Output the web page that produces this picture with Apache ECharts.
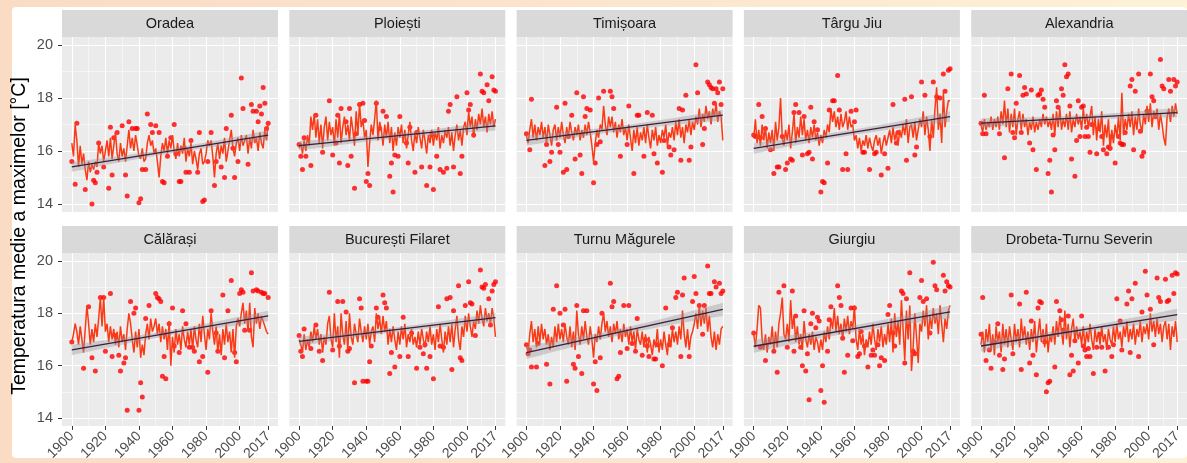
<!DOCTYPE html>
<html>
<head>
<meta charset="utf-8">
<script src="https://cdn.jsdelivr.net/npm/echarts@6/dist/echarts.min.js"></script>
<style>
  html, body { margin: 0; padding: 0; }
  body { width: 1187px; height: 463px; position: relative; overflow: hidden;
         background: linear-gradient(to right, #f9dcc3 0%, #fbe6cf 55%, #fdf2d7 100%); }
  #paper { position: absolute; left: 12px; top: 7px; width: 1175px; height: 451px; background: #fff; border-radius: 4px; }
  #chart { position: absolute; left: 0; top: 0; width: 1187px; height: 463px; }
</style>
</head>
<body>
<div id="paper"></div>
<div id="chart"></div>
<script>
// Annual mean of daily maximum temperature, 1900-2017, ten Romanian stations.
const firstYear = 1900;
const stations = ['Oradea', 'Ploiești', 'Timișoara', 'Târgu Jiu', 'Alexandria',
                  'Călărași', 'București Filaret', 'Turnu Măgurele', 'Giurgiu', 'Drobeta-Turnu Severin'];
const xBreaks = [1900, 1920, 1940, 1960, 1980, 2000, 2017];
const xMinor = [1910, 1930, 1950, 1970, 1990, 2008.5];
const yBreaks = [14, 16, 18, 20];
const yMinor = [15, 17, 19];
const yTitle = 'Temperatura medie a maximelor [°C]';

// yearly series (line), 1900..2017
const lineOradea = [
  16.3, 15.8, 17.0, 16.4, 15.4, 16.2, 15.5, 15.9, 15.3, 14.9,
  15.6, 15.2, 15.5, 15.3, 15.6, 15.4, 16.3, 15.9, 16.2, 15.6,
  16.0, 16.4, 15.8, 16.5, 15.7, 16.2, 16.7, 15.9, 15.6, 16.3,
  15.8, 16.1, 15.6, 16.2, 16.8, 16.1, 16.5, 16.0, 16.6, 16.2,
  15.8, 15.7, 16.1, 15.6, 15.7, 16.3, 16.6, 16.2, 16.4, 15.9,
  16.1, 15.6, 15.0, 15.8, 16.3, 16.0, 16.5, 15.9, 16.4, 16.1,
  16.6, 16.0, 15.7, 16.3, 15.8, 16.2, 15.9, 16.5, 15.6, 16.1,
  15.8, 16.3, 15.5, 16.0, 15.7, 15.3, 15.9, 16.1, 15.5, 15.6,
  15.9, 16.4, 16.2, 16.4, 15.8, 15.0, 15.9, 16.3, 15.7, 16.2,
  15.9, 16.5, 15.6, 16.0, 16.4, 16.8, 16.1, 15.8, 16.3, 16.5,
  16.0, 16.6, 16.2, 16.4, 16.6, 15.9, 16.5, 16.1, 16.8, 16.3,
  16.5, 16.0, 16.7, 16.3, 16.1, 16.8, 16.4, 17.05];
const linePloiesti = [
  16.1, 16.3, 15.9, 16.4, 16.0, 16.6, 16.2, 17.3, 16.8, 17.4,
  16.5, 17.2, 16.3, 17.0, 16.1, 16.9, 17.3, 16.4, 17.1, 16.6,
  16.9, 16.2, 17.2, 16.5, 17.4, 16.3, 16.9, 17.3, 16.6, 17.0,
  16.4, 17.3, 16.8, 16.2, 17.5, 16.6, 17.8, 16.9, 17.2, 16.5,
  16.8, 15.4, 16.3, 17.0, 16.6, 17.2, 17.9, 16.4, 17.1, 16.8,
  16.2, 17.0, 16.5, 17.1, 16.3, 16.9, 16.0, 16.7, 16.2, 16.9,
  16.5, 17.0, 16.3, 16.8, 16.1, 16.6, 17.1, 16.4, 16.0, 16.7,
  16.3, 16.9, 16.5, 16.1, 16.8, 16.4, 15.9, 16.6, 16.3, 16.8,
  16.2, 16.7, 16.4, 16.9, 16.1, 16.6, 16.3, 16.8, 16.5, 16.9,
  16.2, 16.7, 16.0, 16.6, 17.0, 16.4, 16.8, 16.2, 16.9, 17.1,
  16.6, 17.5, 16.9, 17.3, 16.5, 17.2, 16.8, 17.4, 17.0, 17.6,
  16.9, 17.3, 16.7, 17.4, 17.0, 17.5, 16.9, 17.2];
const lineTimisoara = [
  16.6, 16.3, 16.8, 17.2, 16.5, 17.0, 16.4, 16.9, 16.6, 17.1,
  16.5, 16.9, 16.3, 17.0, 16.6, 16.2, 16.8, 17.0, 16.4, 16.9,
  16.5, 17.1, 16.6, 16.3, 16.9, 16.5, 17.1, 16.7, 16.4, 16.9,
  16.6, 17.0, 16.4, 16.8, 16.5, 17.0, 16.6, 17.1, 16.7, 16.2,
  15.6, 16.3, 16.8, 16.5, 17.0, 16.8, 17.7, 17.0, 16.6, 17.3,
  16.9, 17.3, 16.7, 17.1, 16.5, 17.0, 16.7, 17.2, 16.6, 16.9,
  16.4, 17.0, 16.5, 16.0, 16.8, 16.3, 16.9, 16.2, 16.7, 16.4,
  16.9, 16.3, 17.0, 16.5, 16.1, 16.8, 16.4, 16.9, 16.2, 16.6,
  16.3, 16.8, 16.5, 17.0, 16.2, 16.7, 16.5, 16.9, 16.4, 17.1,
  16.6, 17.2, 16.5, 16.9, 16.3, 17.0, 16.7, 17.2, 16.6, 17.1,
  16.8, 17.3, 17.0, 17.6, 16.9, 17.4, 17.1, 17.7, 17.2, 17.5,
  17.0, 17.6, 17.3, 17.8, 17.1, 17.5, 17.3, 16.4];
const lineTarguJiu = [
  16.5, 17.2, 16.3, 16.8, 16.2, 17.0, 16.4, 16.9, 16.1, 16.7,
  16.3, 16.8, 16.0, 17.1, 16.4, 16.9, 18.0, 16.5, 16.2, 16.8,
  16.4, 17.0, 16.1, 16.7, 17.4, 16.3, 16.9, 16.5, 17.3, 16.6,
  17.2, 16.4, 16.8, 16.3, 16.9, 16.5, 17.0, 16.4, 16.7, 16.2,
  16.6, 16.3, 16.8, 16.5, 17.0, 16.7, 17.6, 17.1, 17.5, 16.9,
  17.3, 16.8, 17.4, 16.9, 17.1, 17.5, 16.8, 17.3, 16.9, 17.0,
  16.4, 16.6, 16.1, 16.5, 16.0, 16.4, 16.2, 16.6, 16.1, 16.5,
  16.2, 16.0, 16.4, 16.6, 16.2, 16.5, 15.9, 16.3, 16.6, 16.2,
  16.5, 16.8, 16.3, 16.9, 16.4, 16.7, 16.2, 16.8, 16.5, 17.0,
  16.6, 17.2, 16.3, 16.9, 17.0, 16.5, 17.1, 16.4, 16.8, 17.2,
  16.9, 17.5, 16.6, 17.3, 16.8, 16.0, 17.2, 16.5, 17.6, 18.4,
  16.8, 17.4, 16.3, 18.2, 16.9, 17.5, 17.9, 17.9];
const lineAlexandria = [
  17.0, 16.7, 17.2, 16.8, 17.1, 16.9, 17.3, 16.8, 17.2, 16.9,
  17.3, 16.8, 17.5, 17.0, 17.9, 16.9, 17.6, 16.7, 17.4, 16.9,
  17.6, 16.6, 17.2, 17.5, 16.8, 17.4, 16.9, 17.2, 16.6, 17.1,
  16.8, 17.3, 16.7, 17.1, 16.8, 17.2, 16.9, 17.4, 17.0, 17.3,
  16.9, 17.2, 16.8, 17.4, 16.6, 17.5, 16.9, 17.6, 16.8, 17.2,
  16.9, 17.4, 16.8, 17.5, 16.7, 17.2, 16.9, 17.4, 17.0, 17.3,
  16.8, 17.6, 17.0, 17.4, 16.9, 17.3, 17.7, 16.6, 17.3, 16.4,
  17.2, 16.7, 17.5, 16.2, 17.0, 16.5, 17.2, 16.0, 16.8, 16.3,
  17.0, 16.5, 17.3, 16.4, 18.2, 16.6, 17.2, 16.8, 17.4, 16.9,
  17.5, 16.6, 17.3, 16.8, 17.6, 17.0, 16.7, 17.4, 17.0, 17.7,
  17.1, 17.8, 16.9, 17.5, 17.2, 17.6, 16.8, 17.4, 17.0, 16.5,
  16.2, 17.3, 17.6, 17.1, 17.7, 17.3, 17.8, 17.4];
const lineCalarasi = [
  16.9, 17.2, 17.6, 17.3, 16.8, 17.5, 17.0, 16.5, 17.4, 18.3,
  17.6, 16.8, 17.4, 16.9, 17.6, 17.1, 17.8, 18.6, 17.5, 18.6,
  17.3, 17.6, 16.9, 17.5, 17.0, 17.4, 16.8, 17.3, 16.7, 17.5,
  16.9, 17.2, 16.6, 17.4, 18.0, 17.6, 17.0, 16.5, 17.3, 16.7,
  17.4, 16.3, 16.8, 16.4, 17.2, 17.6, 17.0, 17.8, 17.3, 17.5,
  17.8, 17.2, 17.6, 16.9, 17.5, 17.0, 17.4, 16.6, 17.7, 16.0,
  17.1, 16.5, 17.4, 16.8, 17.2, 16.6, 17.5, 17.0, 16.7, 17.3,
  16.8, 17.4, 16.6, 17.5, 17.0, 16.7, 17.6, 16.9, 17.9, 17.2,
  16.6, 17.4, 17.0, 18.0, 17.3, 16.8, 17.5, 16.5, 17.2, 16.4,
  17.4, 16.8, 17.6, 16.9, 17.3, 16.5, 17.4, 16.3, 17.5, 17.8,
  17.5, 18.0, 18.4, 17.6, 18.1, 17.3, 18.4, 17.1, 16.7, 18.2,
  17.6, 18.0, 17.4, 17.9, 17.7, 17.5, 17.3, 17.2];
const lineFilaret = [
  17.0, 16.8, 16.5, 17.2, 16.6, 17.0, 16.7, 17.3, 16.9, 17.5,
  17.0, 17.4, 16.8, 17.2, 16.5, 17.1, 16.8, 17.6, 17.9, 17.0,
  16.7, 18.0, 16.9, 17.5, 16.3, 18.0, 17.2, 16.8, 17.7, 16.6,
  18.0, 17.1, 16.8, 17.6, 17.2, 16.9, 17.8, 17.3, 16.9, 17.5,
  17.0, 17.6, 16.8, 17.3, 17.5, 16.9, 18.0, 17.4, 17.8, 17.2,
  17.9, 17.3, 17.7, 16.8, 17.4, 16.9, 17.5, 17.0, 16.6, 17.3,
  16.8, 17.5, 17.0, 17.6, 16.7, 17.2, 16.9, 17.4, 16.8, 17.1,
  16.7, 17.3, 16.8, 17.4, 17.0, 16.7, 17.3, 16.9, 17.5, 16.8,
  17.2, 16.6, 17.4, 16.9, 17.6, 17.0, 16.5, 17.3, 16.8, 17.5,
  16.9, 17.6, 16.7, 17.4, 17.9, 17.0, 16.6, 17.5, 17.1, 17.9,
  17.3, 18.0, 17.5, 17.1, 17.7, 17.4, 18.1, 17.6, 18.3, 17.8,
  17.5, 18.2, 17.7, 18.0, 17.6, 18.2, 17.8, 17.1];
const lineTurnu = [
  16.8, 16.5, 17.2, 17.7, 16.9, 17.4, 16.7, 17.5, 16.9, 17.6,
  17.0, 17.4, 16.8, 17.2, 16.6, 17.1, 16.7, 17.5, 16.9, 17.6,
  17.0, 17.4, 16.9, 17.6, 17.1, 16.8, 17.5, 16.7, 17.3, 16.6,
  18.1, 17.2, 16.8, 17.5, 17.0, 17.7, 17.1, 16.8, 17.5, 17.0,
  16.3, 17.2, 16.9, 17.5, 17.0, 17.6, 18.0, 17.3, 17.7, 17.1,
  17.5, 16.9, 17.6, 17.2, 17.7, 17.0, 17.4, 16.9, 17.6, 17.1,
  17.4, 16.8, 17.5, 16.9, 17.3, 16.6, 17.4, 17.0, 16.8, 17.3,
  16.7, 17.2, 16.5, 17.1, 16.8, 16.4, 17.0, 16.7, 17.4, 16.5,
  17.0, 16.6, 17.3, 16.8, 16.4, 17.2, 16.7, 17.4, 16.9, 17.3,
  16.8, 17.5, 17.0, 18.1, 17.2, 16.7, 17.4, 16.6, 17.1, 17.3,
  17.6, 18.0, 17.4, 18.3, 17.5, 18.1, 17.6, 18.2, 17.3, 17.9,
  17.1, 16.7, 17.3, 16.6, 17.2, 16.8, 17.4, 17.5];
const lineGiurgiu = [
  17.2, 16.7, 17.4, 18.3, 18.2, 17.0, 16.6, 17.2, 16.5, 17.1,
  16.8, 17.5, 16.6, 17.3, 16.7, 17.6, 18.0, 18.6, 17.2, 17.0,
  17.6, 16.9, 18.5, 17.4, 17.9, 16.9, 17.5, 16.8, 17.2, 16.6,
  17.7, 17.0, 16.7, 17.2, 16.8, 17.3, 16.6, 17.1, 16.9, 16.5,
  17.0, 16.6, 17.3, 16.9, 17.5, 17.0, 17.8, 17.4, 18.2, 17.3,
  17.9, 17.2, 17.6, 17.0, 17.8, 17.3, 17.9, 17.2, 17.7, 17.4,
  18.3, 17.0, 16.6, 17.4, 16.8, 17.2, 16.4, 17.0, 16.7, 17.3,
  16.8, 17.6, 17.0, 16.6, 17.4, 16.9, 17.5, 16.7, 17.2, 16.8,
  17.6, 16.9, 17.8, 16.5, 18.0, 17.1, 17.7, 16.8, 18.5, 17.4,
  16.2, 18.1, 17.0, 18.3, 15.8, 16.7, 18.0, 17.1, 16.1, 17.6,
  17.3, 18.1, 17.5, 18.3, 17.0, 17.9, 17.4, 18.2, 17.6, 18.0,
  17.2, 18.3, 17.6, 16.9, 17.8, 17.4, 18.1, 18.3];
const lineDrobeta = [
  16.8, 17.3, 16.5, 17.4, 16.9, 17.6, 16.6, 17.2, 16.4, 17.5,
  16.9, 17.3, 16.5, 17.6, 16.8, 17.4, 16.7, 17.5, 17.0, 16.6,
  17.6, 16.9, 17.4, 16.7, 17.8, 17.0, 17.5, 16.8, 17.3, 16.6,
  17.4, 16.9, 17.7, 16.5, 17.2, 17.8, 16.9, 17.4, 16.7, 17.6,
  16.5, 17.2, 16.9, 17.5, 16.8, 17.7, 17.1, 17.9, 17.3, 16.8,
  18.1, 17.0, 17.6, 16.7, 17.4, 17.8, 16.9, 17.5, 17.0, 17.3,
  16.8, 17.5, 16.7, 17.3, 16.9, 17.6, 17.0, 16.6, 17.4, 16.9,
  17.3, 16.8, 17.5, 16.9, 17.2, 16.6, 17.4, 17.0, 16.8, 17.5,
  16.9, 17.6, 17.0, 17.3, 16.7, 17.5, 17.1, 17.7, 16.9, 17.4,
  17.0, 17.6, 16.8, 17.4, 17.1, 17.7, 16.9, 17.5, 17.2, 17.6,
  17.0, 18.0, 17.3, 17.7, 17.1, 17.8, 17.2, 17.6, 16.9, 17.5,
  17.7, 17.0, 17.6, 16.6, 17.5, 17.1, 17.7, 16.9];

// individual yearly observations (points), [year, °C]
const ptsOradea = [[1900,15.6],[1902,14.75],[1903,17.05],[1908,14.55],[1912,14.0],[1913,14.9],[1914,14.8],[1915,15.2],[1916,16.3],[1919,15.4],[1922,14.6],[1923,16.9],[1924,15.1],[1925,16.5],[1927,16.7],[1930,16.95],[1932,15.1],[1933,14.3],[1934,17.1],[1936,16.85],[1938,16.85],[1939,16.85],[1940,14.05],[1941,14.2],[1942,15.3],[1944,15.3],[1945,17.4],[1947,17.0],[1948,16.7],[1950,16.95],[1952,16.7],[1954,14.85],[1955,14.8],[1957,15.8],[1959,16.5],[1961,17.0],[1962,15.9],[1964,14.85],[1965,14.85],[1967,16.1],[1968,15.2],[1970,15.2],[1971,16.4],[1975,15.2],[1976,16.7],[1978,14.1],[1979,14.15],[1981,15.6],[1983,16.7],[1985,14.7],[1986,15.6],[1989,15.4],[1991,15.0],[1992,16.85],[1995,17.35],[1996,16.1],[1997,15.0],[1999,15.6],[2001,18.75],[2002,17.6],[2005,15.5],[2007,17.75],[2008,17.5],[2010,17.5],[2011,17.1],[2012,17.7],[2013,17.4],[2014,18.4],[2015,17.8],[2016,16.85],[2017,17.05]];
const ptsPloiesti = [[1900,16.25],[1901,15.8],[1902,15.3],[1903,16.5],[1904,15.8],[1907,15.45],[1910,17.35],[1914,15.95],[1918,17.9],[1920,15.85],[1922,16.3],[1923,17.35],[1924,15.55],[1925,17.6],[1928,17.1],[1929,15.45],[1930,17.6],[1931,15.8],[1933,14.6],[1934,16.65],[1936,17.75],[1938,17.8],[1939,17.15],[1940,14.85],[1941,15.15],[1942,14.7],[1946,17.8],[1948,16.85],[1950,17.5],[1952,17.3],[1954,15.05],[1955,15.55],[1956,14.45],[1957,15.85],[1959,15.8],[1960,17.3],[1964,16.3],[1965,15.55],[1966,16.9],[1969,15.2],[1970,16.7],[1973,15.4],[1976,14.7],[1978,15.4],[1979,16.6],[1980,14.55],[1982,15.8],[1984,15.3],[1986,15.2],[1988,15.35],[1989,17.5],[1990,17.75],[1992,15.4],[1994,18.05],[1996,15.15],[1997,15.8],[2000,18.2],[2001,17.55],[2002,17.75],[2004,16.6],[2008,18.9],[2009,18.25],[2010,18.2],[2012,18.5],[2013,17.9],[2015,18.8],[2016,18.3],[2017,18.25]];
const ptsTimisoara = [[1900,16.65],[1902,16.05],[1903,17.95],[1911,15.45],[1912,16.25],[1914,15.6],[1915,15.95],[1918,17.65],[1919,16.25],[1920,15.95],[1922,15.2],[1923,17.8],[1924,15.3],[1925,16.55],[1927,17.35],[1929,15.7],[1930,18.2],[1932,15.85],[1933,15.15],[1934,18.05],[1935,17.3],[1936,17.6],[1938,17.55],[1940,14.8],[1941,15.55],[1942,16.25],[1943,18.0],[1944,16.35],[1946,18.25],[1950,18.25],[1951,18.05],[1952,17.6],[1956,15.8],[1960,16.25],[1961,17.7],[1964,15.15],[1966,17.35],[1967,17.35],[1970,15.8],[1972,17.45],[1975,17.35],[1976,15.9],[1978,15.55],[1981,15.2],[1982,16.4],[1985,16.15],[1986,15.85],[1988,16.05],[1991,17.6],[1992,15.65],[1993,17.55],[1995,18.1],[1997,15.65],[1998,16.15],[2001,19.25],[2002,18.2],[2005,16.25],[2006,16.85],[2008,18.6],[2009,18.5],[2010,18.4],[2011,18.35],[2012,17.8],[2013,18.35],[2014,18.2],[2015,18.6],[2016,17.75],[2017,18.35]];
const ptsTarguJiu = [[1900,16.6],[1901,16.55],[1903,17.75],[1904,16.5],[1905,17.3],[1907,16.85],[1910,16.05],[1912,15.15],[1914,15.4],[1915,15.4],[1917,16.55],[1919,15.3],[1920,15.55],[1922,15.7],[1923,15.65],[1924,17.45],[1925,17.75],[1927,17.45],[1929,15.85],[1930,17.3],[1932,15.9],[1933,15.95],[1934,17.65],[1935,15.7],[1936,17.1],[1938,16.8],[1940,14.45],[1941,14.85],[1942,14.8],[1944,15.55],[1945,17.55],[1947,17.9],[1948,17.9],[1950,18.85],[1951,17.55],[1953,15.3],[1955,15.9],[1956,15.3],[1958,17.5],[1960,17.1],[1961,17.55],[1965,15.95],[1966,15.95],[1969,15.3],[1972,15.9],[1973,15.95],[1976,15.1],[1978,15.9],[1980,15.35],[1983,17.75],[1985,16.3],[1986,16.7],[1990,17.95],[1991,15.65],[1994,18.05],[1996,15.85],[1997,16.15],[2000,18.6],[2002,18.1],[2005,16.55],[2007,18.6],[2009,18.05],[2011,18.0],[2013,18.9],[2014,18.25],[2016,19.05],[2017,19.1]];
const ptsAlexandria = [[1900,17.05],[1901,16.65],[1902,18.1],[1903,16.65],[1911,16.65],[1914,15.75],[1916,18.35],[1918,18.9],[1919,16.7],[1920,16.5],[1921,17.8],[1923,18.85],[1924,16.7],[1925,18.1],[1926,18.4],[1927,18.15],[1929,16.3],[1930,18.3],[1931,16.05],[1933,15.3],[1934,18.1],[1935,18.15],[1936,18.3],[1937,17.95],[1938,17.65],[1940,15.15],[1941,15.65],[1942,14.45],[1943,16.6],[1944,16.05],[1945,17.9],[1946,17.65],[1948,18.35],[1949,18.1],[1950,19.25],[1951,18.8],[1952,18.9],[1953,17.7],[1954,15.7],[1956,15.05],[1957,16.4],[1958,17.9],[1959,16.55],[1960,17.65],[1961,17.7],[1962,16.55],[1963,16.9],[1964,16.55],[1965,15.95],[1966,17.0],[1969,15.9],[1970,16.85],[1972,16.55],[1973,16.05],[1975,15.9],[1976,16.15],[1977,16.1],[1978,16.55],[1980,15.55],[1982,16.55],[1983,16.3],[1984,16.25],[1985,16.25],[1986,16.7],[1989,18.45],[1990,18.7],[1991,16.05],[1992,18.25],[1994,18.9],[1995,16.75],[1996,15.8],[1997,15.95],[1999,17.5],[2001,18.9],[2002,18.05],[2003,17.9],[2004,17.3],[2007,19.45],[2008,18.45],[2009,18.35],[2012,18.7],[2013,18.25],[2015,18.7],[2016,18.45],[2017,18.6]];
const ptsCalarasi = [[1900,16.9],[1907,15.9],[1910,18.25],[1912,16.3],[1914,15.8],[1917,18.6],[1919,18.6],[1920,16.55],[1923,18.75],[1924,16.35],[1926,17.15],[1928,16.4],[1929,15.8],[1931,16.1],[1932,16.3],[1933,14.3],[1935,18.45],[1937,18.0],[1938,18.2],[1940,14.3],[1941,15.35],[1942,14.8],[1944,17.8],[1946,18.3],[1950,18.75],[1951,18.6],[1952,18.55],[1953,18.45],[1954,15.6],[1955,16.35],[1956,15.5],[1958,17.6],[1960,18.2],[1961,16.75],[1964,16.5],[1966,18.1],[1968,17.6],[1970,16.7],[1972,16.7],[1973,16.55],[1976,16.15],[1978,16.35],[1981,15.75],[1983,18.1],[1986,17.25],[1987,16.55],[1990,18.7],[1991,16.3],[1993,18.1],[1995,19.25],[1997,16.5],[1998,16.15],[2000,18.75],[2001,18.9],[2002,18.8],[2003,17.35],[2006,17.35],[2007,19.55],[2008,18.85],[2010,18.9],[2011,18.85],[2013,18.8],[2014,18.75],[2015,18.75],[2017,18.6]];
const ptsFilaret = [[1900,17.15],[1901,16.55],[1902,16.35],[1903,17.4],[1907,16.65],[1910,17.55],[1912,16.55],[1914,16.2],[1918,18.8],[1920,16.6],[1923,18.45],[1924,16.75],[1926,18.45],[1928,18.05],[1929,16.55],[1930,16.65],[1933,15.35],[1936,18.55],[1937,18.2],[1938,15.4],[1940,15.4],[1941,15.4],[1942,16.15],[1943,16.75],[1946,18.2],[1947,17.85],[1950,18.7],[1951,18.4],[1952,18.2],[1954,15.7],[1955,16.5],[1957,15.95],[1960,16.35],[1962,17.85],[1965,16.35],[1967,17.25],[1970,15.9],[1972,16.7],[1974,16.45],[1975,16.8],[1976,15.9],[1978,16.35],[1980,15.5],[1983,18.25],[1984,16.75],[1986,16.7],[1988,18.55],[1990,18.6],[1991,15.85],[1992,18.1],[1995,19.05],[1996,16.3],[1997,16.2],[1999,18.3],[2001,19.2],[2002,18.4],[2003,18.35],[2005,17.15],[2008,19.65],[2009,19.0],[2010,18.95],[2011,19.1],[2013,18.55],[2014,17.55],[2015,18.85],[2016,19.1],[2017,19.2]];
const ptsTurnu = [[1900,16.8],[1901,16.45],[1902,16.6],[1903,15.95],[1906,15.95],[1907,16.85],[1912,16.05],[1914,15.3],[1916,18.15],[1918,19.05],[1920,18.0],[1922,17.55],[1923,18.15],[1924,15.4],[1928,16.05],[1929,15.9],[1930,18.3],[1931,16.35],[1933,15.7],[1934,18.1],[1936,18.1],[1940,15.3],[1941,16.15],[1942,15.05],[1944,16.3],[1945,18.0],[1950,19.15],[1951,18.25],[1952,18.45],[1954,15.5],[1955,15.6],[1956,16.5],[1958,18.3],[1960,16.65],[1961,18.3],[1963,16.85],[1965,16.55],[1966,17.8],[1969,16.4],[1971,17.0],[1972,16.75],[1973,16.35],[1976,16.25],[1977,16.25],[1978,16.8],[1981,16.0],[1983,18.2],[1985,16.8],[1987,17.45],[1989,18.6],[1990,18.8],[1992,16.35],[1993,18.7],[1994,19.35],[1997,16.35],[1999,18.45],[2000,19.4],[2001,18.75],[2003,18.3],[2005,17.2],[2006,18.3],[2008,19.8],[2009,18.75],[2010,18.75],[2012,19.2],[2013,19.0],[2015,19.15],[2016,18.75],[2017,18.85]];
const ptsGiurgiu = [[1900,17.25],[1904,16.7],[1907,16.2],[1912,16.55],[1914,15.75],[1915,18.8],[1918,19.05],[1920,16.7],[1923,18.85],[1924,16.55],[1925,17.9],[1928,16.7],[1929,16.0],[1930,18.1],[1931,15.8],[1932,16.45],[1933,14.7],[1934,17.6],[1935,18.0],[1937,17.45],[1938,17.85],[1939,17.7],[1940,15.05],[1941,16.0],[1942,14.6],[1944,16.55],[1945,17.75],[1946,18.25],[1950,19.05],[1951,18.6],[1952,18.3],[1953,17.05],[1954,15.75],[1956,16.4],[1958,18.2],[1959,16.95],[1960,18.2],[1962,16.35],[1963,16.45],[1964,17.3],[1966,16.75],[1968,15.95],[1970,16.4],[1971,16.6],[1972,16.4],[1974,16.8],[1975,16.0],[1976,16.3],[1978,16.2],[1980,17.95],[1981,18.3],[1983,17.25],[1984,16.75],[1988,18.85],[1989,18.75],[1990,16.1],[1991,18.55],[1993,19.55],[1995,16.55],[1996,16.45],[1999,18.6],[2000,19.25],[2001,18.45],[2003,18.55],[2005,17.25],[2007,19.95],[2008,19.05],[2009,18.9],[2013,19.45],[2014,18.85],[2015,19.2],[2016,19.05],[2017,19.0]];
const ptsDrobeta = [[1900,17.2],[1901,18.6],[1903,16.2],[1905,16.6],[1906,15.9],[1908,16.9],[1910,17.6],[1911,16.4],[1913,15.85],[1914,16.25],[1918,18.7],[1919,16.45],[1923,18.35],[1924,15.85],[1927,18.8],[1929,16.1],[1930,17.7],[1931,16.4],[1933,15.65],[1934,18.2],[1935,18.45],[1936,18.4],[1938,16.9],[1939,15.0],[1940,15.35],[1941,15.4],[1944,15.95],[1945,18.45],[1947,18.1],[1948,17.75],[1949,17.35],[1952,17.9],[1953,15.65],[1954,16.4],[1955,15.8],[1956,16.95],[1958,16.1],[1960,17.9],[1961,16.75],[1962,16.6],[1963,16.35],[1964,16.65],[1965,16.35],[1967,15.7],[1969,16.7],[1971,17.2],[1972,16.7],[1974,15.8],[1976,16.7],[1978,16.35],[1979,16.8],[1981,18.55],[1983,17.7],[1984,16.6],[1987,18.35],[1988,18.85],[1989,16.5],[1990,18.55],[1992,19.15],[1994,16.35],[1996,18.05],[1998,19.6],[1999,18.7],[2001,18.15],[2003,16.8],[2005,19.35],[2006,18.6],[2007,18.45],[2010,19.3],[2011,18.45],[2012,18.5],[2014,19.45],[2015,18.75],[2016,19.55],[2017,19.5]];

// linear trend (fitted value in 1900 and 2017) and half-width of its 95% band at the ends
const trendStart = [15.4, 16.2, 16.4, 16.1, 17.05, 16.6, 16.93, 16.5, 16.74, 16.75];
const trendEnd   = [16.6, 16.95, 17.35, 17.3, 17.45, 17.9, 17.83, 18.15, 18.05, 17.95];
const bandEnd    = [0.18, 0.18, 0.2, 0.2, 0.18, 0.2, 0.18, 0.25, 0.25, 0.22];

const lineSets = [lineOradea, linePloiesti, lineTimisoara, lineTarguJiu, lineAlexandria,
                  lineCalarasi, lineFilaret, lineTurnu, lineGiurgiu, lineDrobeta];
const pointSets = [ptsOradea, ptsPloiesti, ptsTimisoara, ptsTarguJiu, ptsAlexandria,
                   ptsCalarasi, ptsFilaret, ptsTurnu, ptsGiurgiu, ptsDrobeta];

const FONT = '"Liberation Sans", Arial, Helvetica, sans-serif';
const PANEL_W = 216, PANEL_H = 175, STRIP_H = 27;
const panelLeft = c => 62 + 227.3 * c;
const panelTop = [37, 253];
const X_MIN = 1894.15, X_MAX = 2022.85, Y_MIN = 13.7, Y_MAX = 20.3;

const grids = [], xAxes = [], yAxes = [], series = [], graphics = [];

stations.forEach((name, i) => {
  const row = i < 5 ? 0 : 1, col = i % 5;
  const left = panelLeft(col), top = panelTop[row];
  const values = lineSets[i];
  const years = values.map((_, k) => firstYear + k);
  const lastYear = years[years.length - 1];

  grids.push({ left, top, width: PANEL_W, height: PANEL_H, show: true,
               backgroundColor: '#ebebeb', borderWidth: 0 });

  xAxes.push({
    type: 'value', gridIndex: i, min: X_MIN, max: X_MAX,
    axisLine: { show: false }, splitLine: { show: false },
    axisTick: { show: row === 1, customValues: xBreaks, length: 4, lineStyle: { color: '#333', width: 1 } },
    axisLabel: { show: row === 1, customValues: xBreaks, rotate: 45, margin: 8,
                 formatter: v => String(v),
                 fontSize: 14, fontFamily: FONT, color: '#4d4d4d' }
  });
  yAxes.push({
    type: 'value', gridIndex: i, min: Y_MIN, max: Y_MAX,
    axisLine: { show: false }, splitLine: { show: false },
    axisTick: { show: col === 0, customValues: yBreaks, length: 4, lineStyle: { color: '#333', width: 1 } },
    axisLabel: { show: col === 0, customValues: yBreaks, margin: 9,
                 formatter: v => String(v),
                 fontSize: 14.5, fontFamily: FONT, color: '#4d4d4d' }
  });

  // panel grid lines (major and minor), kept under the data
  const gl = [];
  xBreaks.forEach(v => gl.push({ xAxis: v, lineStyle: { width: 1.1 } }));
  xMinor.forEach(v => gl.push({ xAxis: v, lineStyle: { width: 0.5 } }));
  yBreaks.forEach(v => gl.push({ yAxis: v, lineStyle: { width: 1.1 } }));
  yMinor.forEach(v => gl.push({ yAxis: v, lineStyle: { width: 0.5 } }));
  series.push({
    type: 'line', xAxisIndex: i, yAxisIndex: i, data: [], silent: true, z: 1,
    markLine: { silent: true, z: 1, symbol: ['none', 'none'], animation: false,
                label: { show: false }, emphasis: { disabled: true },
                lineStyle: { color: '#ffffff', type: 'solid', opacity: 1 }, data: gl }
  });

  // observations
  series.push({
    type: 'scatter', xAxisIndex: i, yAxisIndex: i, data: pointSets[i], z: 2,
    symbol: 'circle', symbolSize: 5, itemStyle: { color: '#ff0000' }, silent: true
  });

  // yearly line
  series.push({
    type: 'line', xAxisIndex: i, yAxisIndex: i, z: 3, silent: true,
    data: years.map((y, k) => [y, values[k]]),
    showSymbol: false, lineStyle: { color: '#fa3a16', width: 1.5 }
  });

  // linear trend with confidence band
  const n = years.length;
  const xm = years.reduce((a, b) => a + b, 0) / n;
  const sxx = years.reduce((a, y) => a + (y - xm) * (y - xm), 0);
  const seEnd = Math.sqrt(1 / n + (firstYear - xm) * (firstYear - xm) / sxx);
  const fit = y => trendStart[i] + (trendEnd[i] - trendStart[i]) * (y - firstYear) / (lastYear - firstYear);
  const band = [];
  for (let y = firstYear; y <= lastYear; y += 3) {
    const hw = bandEnd[i] * Math.sqrt(1 / n + (y - xm) * (y - xm) / sxx) / seEnd;
    band.push([y, fit(y) - hw, fit(y) + hw]);
  }
  if (band[band.length - 1][0] !== lastYear) {
    band.push([lastYear, fit(lastYear) - bandEnd[i], fit(lastYear) + bandEnd[i]]);
  }
  series.push({
    type: 'custom', xAxisIndex: i, yAxisIndex: i, z: 4, silent: true, data: band,
    renderItem: (params, api) => {
      if (params.dataIndex !== 0) return null;
      const pts = band.map(b => api.coord([b[0], b[2]]));
      for (let k = band.length - 1; k >= 0; k--) pts.push(api.coord([band[k][0], band[k][1]]));
      return { type: 'polygon', shape: { points: pts }, style: { fill: 'rgba(153,153,153,0.4)' } };
    }
  });
  series.push({
    type: 'line', xAxisIndex: i, yAxisIndex: i, z: 5, silent: true,
    data: [[firstYear, trendStart[i]], [lastYear, trendEnd[i]]],
    showSymbol: false, lineStyle: { color: '#3f1c3c', width: 1.3 }
  });

  // facet strip
  graphics.push({ type: 'rect', shape: { x: left, y: top - STRIP_H, width: PANEL_W, height: STRIP_H },
                  style: { fill: '#d9d9d9' }, silent: true });
  graphics.push({ type: 'text', x: left + PANEL_W / 2, y: top - STRIP_H / 2,
                  style: { text: name, fontSize: 14.5, fontFamily: FONT, fill: '#1a1a1a',
                           align: 'center', verticalAlign: 'middle' }, silent: true });
});

graphics.push({ type: 'text', x: 20, y: 236, rotation: Math.PI / 2,
                style: { text: yTitle, fontSize: 19.5, fontFamily: FONT, fill: '#000',
                         align: 'center', verticalAlign: 'middle' }, silent: true });

const chart = echarts.init(document.getElementById('chart'), null, { renderer: 'canvas' });
chart.setOption({
  animation: false,
  backgroundColor: 'transparent',
  grid: grids, xAxis: xAxes, yAxis: yAxes,
  series, graphic: graphics
});
</script>
</body>
</html>
